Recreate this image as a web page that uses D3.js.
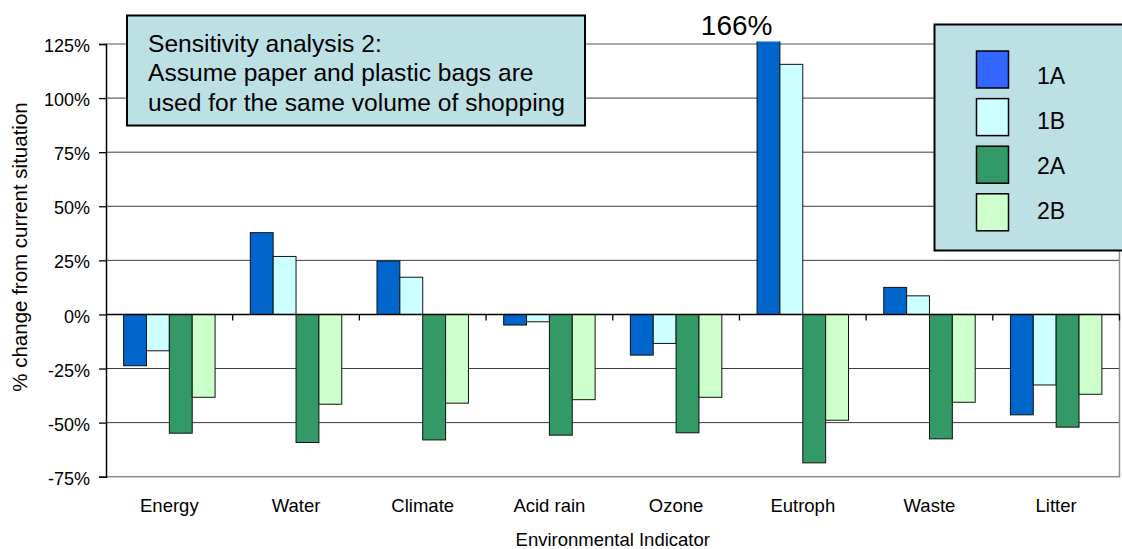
<!DOCTYPE html>
<html>
<head>
<meta charset="utf-8">
<script src="https://cdn.jsdelivr.net/npm/d3@7"></script>
<style>
  html, body { margin: 0; padding: 0; background: #fff; }
  svg { display: block; font-family: "Liberation Sans", Arial, sans-serif; }
</style>
</head>
<body>
<svg id="chart" width="1122" height="549"></svg>
<script>
// Indicators along the x axis
const categories = ["Energy", "Water", "Climate", "Acid rain", "Ozone", "Eutroph", "Waste", "Litter"];
// Scenario series (% change from current situation)
const seriesNames = ["1A", "1B", "2A", "2B"];
const values1A = [-23.7, 37.8, 24.7, -4.9, -18.8, 166, 12.5, -46.4];
const values1B = [-16.8, 26.8, 17.2, -3.4, -13.4, 115.6, 8.6, -32.6];
const values2A = [-54.9, -59.2, -58.0, -55.8, -54.7, -68.6, -57.5, -52.1];
const values2B = [-38.3, -41.5, -41.0, -39.4, -38.3, -48.9, -40.6, -36.9];
const yTicks = [-75, -50, -25, 0, 25, 50, 75, 100, 125];
const noteLines = [
  "Sensitivity analysis 2:",
  "Assume paper and plastic bags are",
  "used for the same volume of shopping"
];

const barColors = { "1A": "#0066cc", "1B": "#ccffff", "2A": "#339966", "2B": "#ccffcc" };
const legendColors = { "1A": "#3366ff", "1B": "#ccffff", "2A": "#339966", "2B": "#ccffcc" };
const seriesValues = { "1A": values1A, "1B": values1B, "2A": values2A, "2B": values2B };

const svg = d3.select("#chart");
const plot = { left: 106, right: 1119.5, top: 44, bottom: 476.7 };

const x0 = d3.scaleBand()
  .domain(categories)
  .range([plot.left, plot.right])
  .paddingInner(0.278)
  .paddingOuter(0.139);
const x1 = d3.scaleBand().domain(seriesNames).range([0, x0.bandwidth()]);
const y = d3.scaleLinear().domain([-75, 125]).range([plot.bottom, plot.top]);

// Horizontal gridlines
svg.append("g")
  .selectAll("line")
  .data(yTicks.filter(t => t !== 0 && t !== -75 && t !== 125))
  .join("line")
  .attr("x1", plot.left).attr("x2", plot.right)
  .attr("y1", d => y(d)).attr("y2", d => y(d))
  .attr("stroke", "#3a3a3a").attr("stroke-width", 1);

// Plot area frame (top, right, bottom)
svg.append("path")
  .attr("d", `M${plot.left},${y(125)}H${plot.right}V${y(-75)}H${plot.left}`)
  .attr("fill", "none")
  .attr("stroke", "#8c8c8c")
  .attr("stroke-width", 1.5);

// Clip bars to the plot area (the Eutroph 1A bar runs off the scale)
svg.append("clipPath").attr("id", "plotClip")
  .append("rect")
  .attr("x", plot.left).attr("y", y(125) - 2.5)
  .attr("width", plot.right - plot.left)
  .attr("height", y(-75) - y(125) + 2.5);

const bars = [];
categories.forEach((c, i) => {
  seriesNames.forEach(s => bars.push({ cat: c, series: s, value: seriesValues[s][i] }));
});

svg.append("g")
  .attr("clip-path", "url(#plotClip)")
  .selectAll("rect")
  .data(bars)
  .join("rect")
  .attr("x", d => x0(d.cat) + x1(d.series))
  .attr("width", x1.bandwidth())
  .attr("y", d => y(Math.max(0, d.value)))
  .attr("height", d => Math.abs(y(d.value) - y(0)))
  .attr("fill", d => barColors[d.series])
  .attr("stroke", "#111")
  .attr("stroke-width", 1);

// Value label for the bar that exceeds the axis range
const over = bars.filter(d => d.value > 125);
svg.append("g")
  .selectAll("text")
  .data(over)
  .join("text")
  .attr("x", d => x0(d.cat) + x1(d.series) + x1.bandwidth() / 2 + 4)
  .attr("y", y(125) - 9)
  .attr("text-anchor", "end")
  .attr("font-size", 28)
  .attr("fill", "#000")
  .text(d => d.value + "%");

// Y axis
const yAxis = svg.append("g")
  .attr("transform", `translate(${plot.left},0)`)
  .call(d3.axisLeft(y).tickValues(yTicks).tickSize(7).tickPadding(9).tickFormat(d => d + "%"));
yAxis.select(".domain").attr("stroke", "#000").attr("stroke-width", 1.5);
yAxis.selectAll(".tick line").attr("stroke", "#000").attr("stroke-width", 1.3);
yAxis.selectAll(".tick text")
  .attr("font-size", 18)
  .attr("font-family", "Liberation Sans, Arial, sans-serif")
  .attr("fill", "#000")
  .attr("dy", "0.42em");

// Zero line with category separators
const zero = svg.append("g");
zero.append("line")
  .attr("x1", plot.left).attr("x2", plot.right)
  .attr("y1", y(0)).attr("y2", y(0))
  .attr("stroke", "#000").attr("stroke-width", 1.5);
const step = x0.step();
zero.selectAll("line.sep")
  .data(categories)
  .join("line")
  .attr("class", "sep")
  .attr("x1", d => x0(d) - x0.paddingOuter() * step + step)
  .attr("x2", d => x0(d) - x0.paddingOuter() * step + step)
  .attr("y1", y(0)).attr("y2", y(0) + 6)
  .attr("stroke", "#000").attr("stroke-width", 1.3);

// Category labels
svg.append("g")
  .selectAll("text")
  .data(categories)
  .join("text")
  .attr("x", d => x0(d) + x0.bandwidth() / 2)
  .attr("y", 512)
  .attr("text-anchor", "middle")
  .attr("font-size", 18.5)
  .attr("fill", "#000")
  .text(d => d);

// Axis titles
svg.append("text")
  .attr("x", (plot.left + plot.right) / 2)
  .attr("y", 546)
  .attr("text-anchor", "middle")
  .attr("font-size", 18.5)
  .attr("fill", "#000")
  .text("Environmental Indicator");

svg.append("text")
  .attr("transform", "translate(27,247) rotate(-90)")
  .attr("text-anchor", "middle")
  .attr("font-size", 20.5)
  .attr("fill", "#000")
  .text("% change from current situation");

// Note box
const note = svg.append("g");
note.append("rect")
  .attr("x", 127).attr("y", 15.5)
  .attr("width", 458).attr("height", 110)
  .attr("fill", "#bde0e4")
  .attr("stroke", "#000").attr("stroke-width", 2);
note.selectAll("text")
  .data(noteLines)
  .join("text")
  .attr("x", 148)
  .attr("y", (d, i) => 51.5 + i * 29.5)
  .attr("font-size", 24.6)
  .attr("fill", "#000")
  .text(d => d);

// Legend
const legend = svg.append("g");
legend.append("rect")
  .attr("x", 934.5).attr("y", 24.5)
  .attr("width", 200).attr("height", 226)
  .attr("fill", "#bde0e4")
  .attr("stroke", "#000").attr("stroke-width", 2);
const rows = legend.selectAll("g.row")
  .data(seriesNames)
  .join("g")
  .attr("class", "row");
rows.append("rect")
  .attr("x", 976.5)
  .attr("y", (d, i) => 51 + i * 47.6)
  .attr("width", 32).attr("height", 37)
  .attr("fill", d => legendColors[d])
  .attr("stroke", "#000").attr("stroke-width", 1.5);
rows.append("text")
  .attr("x", 1037)
  .attr("y", (d, i) => 84 + i * 45)
  .attr("font-size", 23)
  .attr("fill", "#000")
  .text(d => d);
</script>
</body>
</html>
